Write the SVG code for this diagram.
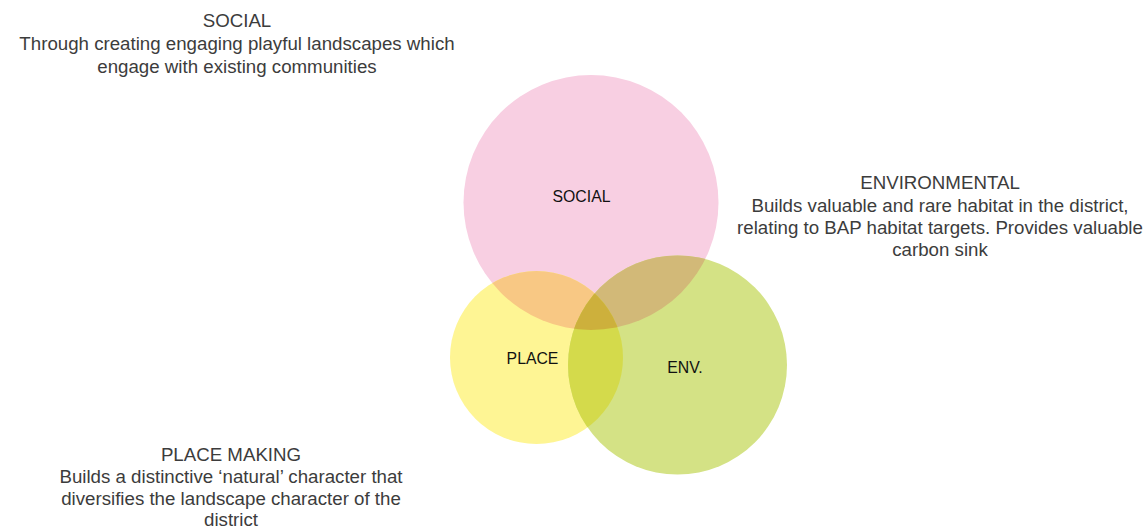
<svg xmlns="http://www.w3.org/2000/svg" width="1145" height="527" viewBox="0 0 1145 527">
<style>
.desc{font-family:"Liberation Sans",Arial,sans-serif;font-size:18.7px;fill:#3c3c3c;text-anchor:middle}
.lbl{font-family:"Liberation Sans",Arial,sans-serif;font-size:15.8px;fill:#111111;text-anchor:middle}
</style>
<defs>
<clipPath id="cpPink"><circle cx="591" cy="202.5" r="127.5"/></clipPath>
<clipPath id="cpYellow"><circle cx="536.5" cy="357.5" r="86.5"/></clipPath>
<clipPath id="cpGreen"><circle cx="677.5" cy="365" r="109.5"/></clipPath>
</defs>
<rect width="1145" height="527" fill="#ffffff"/>
<g id="node-social">
<circle cx="591" cy="202.5" r="127.5" fill="#f8cfe2"/>
</g>
<g id="node-place">
<circle cx="536.5" cy="357.5" r="86.5" fill="#fef594"/>
</g>
<g id="node-env">
<circle cx="677.5" cy="365" r="109.5" fill="#d4e285"/>
</g>
<g id="overlaps">
<g clip-path="url(#cpPink)"><circle cx="536.5" cy="357.5" r="86.5" fill="#f8c884"/></g>
<g clip-path="url(#cpPink)"><circle cx="677.5" cy="365" r="109.5" fill="#d2b978"/></g>
<g clip-path="url(#cpYellow)"><circle cx="677.5" cy="365" r="109.5" fill="#d4da4b"/></g>
<g clip-path="url(#cpPink)"><g clip-path="url(#cpYellow)"><circle cx="677.5" cy="365" r="109.5" fill="#cdb03c"/></g></g>
</g>
<g id="labels">
<text class="lbl" x="581.5" y="201.5">SOCIAL</text>
<text class="lbl" x="532.5" y="364">PLACE</text>
<text class="lbl" x="685" y="373">ENV.</text>
</g>
<g id="text-social">
<text class="desc" x="237" y="27">SOCIAL</text>
<text class="desc" x="237" y="50">Through creating engaging playful landscapes which</text>
<text class="desc" x="237" y="73">engage with existing communities</text>
</g>
<g id="text-env">
<text class="desc" x="940" y="189">ENVIRONMENTAL</text>
<text class="desc" x="940" y="211.5">Builds valuable and rare habitat in the district,</text>
<text class="desc" x="940" y="234">relating to BAP habitat targets. Provides valuable</text>
<text class="desc" x="940" y="256">carbon sink</text>
</g>
<g id="text-place">
<text class="desc" x="231" y="461">PLACE MAKING</text>
<text class="desc" x="231" y="483">Builds a distinctive ‘natural’ character that</text>
<text class="desc" x="231" y="505">diversifies the landscape character of the</text>
<text class="desc" x="231" y="526">district</text>
</g>
<g id="connectors"></g>
</svg>
